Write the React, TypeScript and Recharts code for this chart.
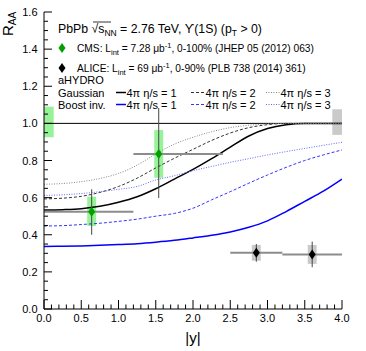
import React from "react";
import {
  ComposedChart,
  Line,
  Scatter,
  ErrorBar,
  XAxis,
  YAxis,
  ReferenceArea,
  ReferenceLine,
} from "recharts";

// |y| grid for the aHYDRO curves
const rapidity = [0, 0.25, 0.5, 0.75, 1.0, 1.25, 1.5, 1.75, 2.0, 2.25, 2.5, 2.75, 3.0, 3.25, 3.5, 3.75, 4.0];

// Gaussian, 4pi eta/s = 1, 2, 3
const gauss1 = [0.533, 0.535, 0.54, 0.553, 0.575, 0.605, 0.648, 0.7, 0.752, 0.81, 0.872, 0.932, 0.972, 0.993, 1.0, 1.0, 1.0];
const gauss2 = [0.593, 0.597, 0.607, 0.628, 0.66, 0.705, 0.76, 0.812, 0.86, 0.908, 0.948, 0.977, 0.993, 1.0, 1.0, 1.0, 1.0];
const gauss3 = [0.672, 0.676, 0.686, 0.703, 0.73, 0.775, 0.835, 0.888, 0.925, 0.955, 0.977, 0.99, 0.997, 1.0, 1.0, 1.0, 1.0];

// Boost invariant, 4pi eta/s = 1, 2, 3
const boost1 = [0.337, 0.338, 0.34, 0.343, 0.347, 0.352, 0.36, 0.37, 0.383, 0.397, 0.415, 0.44, 0.475, 0.525, 0.58, 0.635, 0.7];
const boost2 = [0.447, 0.449, 0.455, 0.462, 0.472, 0.484, 0.5, 0.515, 0.543, 0.588, 0.632, 0.678, 0.722, 0.763, 0.8, 0.83, 0.857];
const boost3 = [0.612, 0.615, 0.622, 0.632, 0.645, 0.66, 0.695, 0.718, 0.745, 0.768, 0.79, 0.81, 0.83, 0.848, 0.865, 0.882, 0.898];

// CMS points
const cmsX = [0.64, 1.54];
const cmsBinLo = [0.0, 1.2];
const cmsBinHi = [1.2, 2.4];
const cmsY = [0.524, 0.835];
const cmsStatLo = [0.4, 0.598];
const cmsStatHi = [0.645, 1.083];
const cmsSystLo = [0.447, 0.707];
const cmsSystHi = [0.605, 0.964];

// ALICE points
const aliceX = [2.85, 3.6];
const aliceBinLo = [2.5, 3.2];
const aliceBinHi = [3.2, 4.0];
const aliceY = [0.303, 0.293];
const aliceStatLo = [0.255, 0.225];
const aliceStatHi = [0.35, 0.363];
const aliceSystLo = [0.26, 0.243];
const aliceSystHi = [0.345, 0.345];

const systHalfWidth = 0.06;

// global uncertainty boxes at unity
const cmsGlobal = { x1: 0.0, x2: 0.13, y1: 0.925, y2: 1.09 };
const aliceGlobal = { x1: 3.87, x2: 4.0, y1: 0.938, y2: 1.076 };
const unity = 1.0;

const xMajor = [0, 0.5, 1.0, 1.5, 2.0, 2.5, 3.0, 3.5, 4.0];
const yMajor = [0, 0.2, 0.4, 0.6, 0.8, 1.0, 1.2, 1.4, 1.6];

const xTicks: number[] = [];
for (let i = 0; i <= 40; i++) xTicks.push(+(i * 0.1).toFixed(2));
const yTicks: number[] = [];
for (let i = 0; i <= 32; i++) yTicks.push(+(i * 0.05).toFixed(2));

const FONT = "'Liberation Sans', Arial, sans-serif";
const TM = 6;

const isMajor = (v: number, list: number[]) => list.some((m) => Math.abs(m - v) < 1e-6);

const curve = (vals: number[]) => rapidity.map((x, i) => ({ x, y: vals[i] }));

const cmsPts = cmsX.map((x, i) => ({
  x,
  y: cmsY[i],
  ex: [x - cmsBinLo[i], cmsBinHi[i] - x],
  ey: [cmsY[i] - cmsStatLo[i], cmsStatHi[i] - cmsY[i]],
}));
const alicePts = aliceX.map((x, i) => ({
  x,
  y: aliceY[i],
  ex: [x - aliceBinLo[i], aliceBinHi[i] - x],
  ey: [aliceY[i] - aliceStatLo[i], aliceStatHi[i] - aliceY[i]],
}));

const diamond = (color: string) => (p: any) => (
  <polygon
    points={`${p.cx},${p.cy - 5} ${p.cx + 3.5},${p.cy} ${p.cx},${p.cy + 5} ${p.cx - 3.5},${p.cy}`}
    fill={color}
  />
);

const LeftTick = (p: any) => {
  const { x, y, payload } = p;
  const big = isMajor(payload.value, yMajor);
  const ax = x + TM;
  return (
    <g>
      <line x1={ax} x2={ax + (big ? 8 : 4)} y1={y} y2={y} stroke="#000" />
      {big && (
        <text x={x - 0.5} y={y + 4} textAnchor="end" fontSize={11} fontFamily={FONT} fill="#000">
          {payload.value.toFixed(1)}
        </text>
      )}
    </g>
  );
};

const RightTick = (p: any) => {
  const { x, y, payload } = p;
  const big = isMajor(payload.value, yMajor);
  const ax = x - TM;
  return <line x1={ax} x2={ax - (big ? 8 : 4)} y1={y} y2={y} stroke="#000" />;
};

const BottomTick = (p: any) => {
  const { x, y, payload } = p;
  const big = isMajor(payload.value, xMajor);
  const ay = y - TM;
  return (
    <g>
      <line x1={x} x2={x} y1={ay} y2={ay - (big ? 9 : 4.5)} stroke="#000" />
      {big && (
        <text x={x} y={ay + 13} textAnchor="middle" fontSize={11} fontFamily={FONT} fill="#000">
          {payload.value.toFixed(1)}
        </text>
      )}
    </g>
  );
};

const TopTick = (p: any) => {
  const { x, y, payload } = p;
  const big = isMajor(payload.value, xMajor);
  const ay = y + TM;
  return <line x1={x} x2={x} y1={ay} y2={ay + (big ? 9 : 4.5)} stroke="#000" />;
};

const ids = { xAxisId: "b", yAxisId: "l" };

const curves = [
  { vals: gauss1, color: "#000000", dash: undefined, width: 1.5 },
  { vals: gauss2, color: "#333333", dash: "3 2", width: 1 },
  { vals: gauss3, color: "#888888", dash: "1 1.5", width: 1 },
  { vals: boost1, color: "#0000ff", dash: undefined, width: 1.5 },
  { vals: boost2, color: "#3333ff", dash: "3 2", width: 1 },
  { vals: boost3, color: "#6666ff", dash: "1 1.5", width: 1 },
];

const legendRows = [
  { label: "Gaussian", y: 96.5, colors: ["#000000", "#333333", "#888888"] },
  { label: "Boost inv.", y: 108.5, colors: ["#0000ff", "#3333ff", "#6666ff"] },
];
const legendCols = [
  { x1: 116, x2: 126, dash: undefined, width: 1.5, text: "1" },
  { x1: 191, x2: 205, dash: "3 2", width: 1, text: "2" },
  { x1: 266, x2: 280, dash: "1 1.5", width: 1, text: "3" },
];

function Overlay() {
  return (
    <svg
      width={366}
      height={351}
      style={{ position: "absolute", left: 0, top: 0, pointerEvents: "none" }}
      fontFamily={FONT}
    >
      <text transform="translate(13,36) rotate(-90)" fontSize={15} fill="#000">
        R<tspan fontSize={10} dy={3}>AA</tspan>
      </text>
      <text x={193} y={343} textAnchor="middle" fontSize={15} fill="#000">
        |y|
      </text>

      <text x={58} y={33} fontSize={12.3} fill="#000">
        PbPb √s<tspan fontSize={8.5} dy={3}>NN</tspan>
        <tspan dy={-3}> = 2.76 TeV, ϒ(1S) (p</tspan>
        <tspan fontSize={8.5} dy={3}>T</tspan>
        <tspan dy={-3}> &gt; 0)</tspan>
      </text>
      <line x1={93} x2={111} y1={22} y2={22} stroke="#000" strokeWidth={0.8} />

      <polygon points="62,43 65.5,48 62,53 58.5,48" fill="#00a000" />
      <text x={77} y={52} fontSize={10.2} fill="#000">
        CMS: L<tspan fontSize={7.5} dy={2.5}>int</tspan>
        <tspan dy={-2.5}> = 7.28 μb</tspan>
        <tspan fontSize={7.5} dy={-4}>-1</tspan>
        <tspan dy={4}>, 0-100% (JHEP 05 (2012) 063)</tspan>
      </text>
      <polygon points="62,63 65.5,68 62,73 58.5,68" fill="#000" />
      <text x={77} y={72} fontSize={10.2} fill="#000">
        ALICE: L<tspan fontSize={7.5} dy={2.5}>int</tspan>
        <tspan dy={-2.5}> = 69 μb</tspan>
        <tspan fontSize={7.5} dy={-4}>-1</tspan>
        <tspan dy={4}>, 0-90% (PLB 738 (2014) 361)</tspan>
      </text>

      <text x={58} y={84} fontSize={11} fill="#000">
        aHYDRO
      </text>
      {legendRows.map((r) => (
        <g key={r.label}>
          <text x={58} y={r.y} fontSize={11} fill="#000">
            {r.label}
          </text>
          {legendCols.map((c, j) => (
            <g key={j}>
              <line
                x1={c.x1}
                x2={c.x2}
                y1={r.y - 4}
                y2={r.y - 4}
                stroke={r.colors[j]}
                strokeWidth={c.width}
                strokeDasharray={c.dash}
              />
              <text x={c.x2 + 0.5} y={r.y} fontSize={11} fill="#000">
                4π η/s = {c.text}
              </text>
            </g>
          ))}
        </g>
      ))}
    </svg>
  );
}

export default function App() {
  return (
    <div style={{ position: "absolute", left: 0, top: 0, width: 366, height: 351, background: "#fff" }}>
      <ComposedChart width={366} height={351} margin={{ top: 12, right: 24, bottom: 0, left: 0 }}>
        <XAxis
          xAxisId="b"
          type="number"
          dataKey="x"
          domain={[0, 4]}
          ticks={xTicks}
          interval={0}
          tick={(p: any) => <BottomTick {...p} />}
          tickLine={false}
          tickSize={0}
          tickMargin={TM}
          axisLine={{ stroke: "#000" }}
          height={42}
          allowDataOverflow
        />
        <XAxis
          xAxisId="t"
          orientation="top"
          type="number"
          dataKey="x"
          domain={[0, 4]}
          ticks={xTicks}
          interval={0}
          tick={(p: any) => <TopTick {...p} />}
          tickLine={false}
          tickSize={0}
          tickMargin={TM}
          axisLine={{ stroke: "#000" }}
          height={0}
          allowDataOverflow
        />
        <YAxis
          yAxisId="l"
          type="number"
          dataKey="y"
          domain={[0, 1.6]}
          ticks={yTicks}
          interval={0}
          tick={(p: any) => <LeftTick {...p} />}
          tickLine={false}
          tickSize={0}
          tickMargin={TM}
          axisLine={{ stroke: "#000" }}
          width={44}
          allowDataOverflow
        />
        <YAxis
          yAxisId="r"
          orientation="right"
          type="number"
          dataKey="y"
          domain={[0, 1.6]}
          ticks={yTicks}
          interval={0}
          tick={(p: any) => <RightTick {...p} />}
          tickLine={false}
          tickSize={0}
          tickMargin={TM}
          axisLine={{ stroke: "#000" }}
          width={0}
          allowDataOverflow
        />

        <ReferenceArea {...ids} {...cmsGlobal} fill="#7ef07e" fillOpacity={0.8} stroke="none" />
        <ReferenceArea {...ids} {...aliceGlobal} fill="#c4c4c4" fillOpacity={0.9} stroke="none" />
        {cmsX.map((x, i) => (
          <ReferenceArea
            key={"cs" + i}
            {...ids}
            x1={x - systHalfWidth}
            x2={x + systHalfWidth}
            y1={cmsSystLo[i]}
            y2={cmsSystHi[i]}
            fill="#7ef07e"
            fillOpacity={0.8}
            stroke="none"
          />
        ))}
        {aliceX.map((x, i) => (
          <ReferenceArea
            key={"as" + i}
            {...ids}
            x1={x - systHalfWidth}
            x2={x + systHalfWidth}
            y1={aliceSystLo[i]}
            y2={aliceSystHi[i]}
            fill="#c4c4c4"
            fillOpacity={0.9}
            stroke="none"
          />
        ))}
        <ReferenceLine {...ids} y={unity} stroke="#000" strokeWidth={1} />

        {curves.map((c, i) => (
          <Line
            key={i}
            {...ids}
            data={curve(c.vals)}
            dataKey="y"
            type="monotone"
            stroke={c.color}
            strokeWidth={c.width}
            strokeDasharray={c.dash}
            dot={false}
            activeDot={false}
            isAnimationActive={false}
          />
        ))}

        <Scatter {...ids} data={cmsPts} dataKey="y" shape={diamond("#00a000")} isAnimationActive={false}>
          <ErrorBar dataKey="ex" direction="x" width={0} stroke="#8c8c8c" strokeWidth={2} />
          <ErrorBar dataKey="ey" direction="y" width={0} stroke="#444" strokeWidth={1} />
        </Scatter>
        <Scatter {...ids} data={alicePts} dataKey="y" shape={diamond("#000")} isAnimationActive={false}>
          <ErrorBar dataKey="ex" direction="x" width={0} stroke="#8c8c8c" strokeWidth={2} />
          <ErrorBar dataKey="ey" direction="y" width={0} stroke="#444" strokeWidth={1} />
        </Scatter>
      </ComposedChart>
      <Overlay />
    </div>
  );
}
